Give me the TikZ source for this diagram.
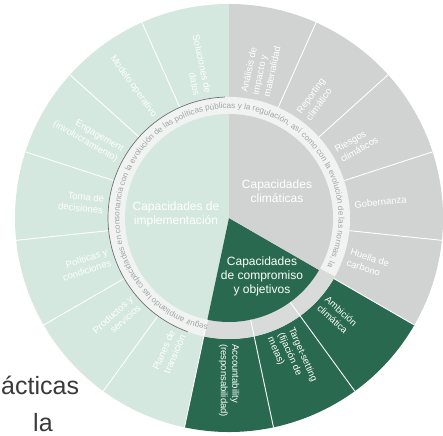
\documentclass[tikz,border=0pt]{standalone}
\usepackage{fontspec}
\setmainfont{Liberation Sans}
\usetikzlibrary{decorations.text}
\definecolor{lgreen}{HTML}{D4E8E0}
\definecolor{lgray}{HTML}{D0D3D2}
\definecolor{dgreen}{HTML}{28694F}
\definecolor{ringw}{HTML}{F1F3F2}
\definecolor{ringg}{HTML}{D8DBD9}
\definecolor{ringtext}{HTML}{A0A6A3}
\definecolor{ringedge}{HTML}{6D7370}
\definecolor{bodytext}{HTML}{3A3A3A}
\begin{document}
\begin{tikzpicture}[x=1pt,y=1pt,
  seglabel/.style={text=white, font=\fontsize{9.5}{11.5}\selectfont, inner sep=0pt},
  rlabel/.style={seglabel, anchor=west, align=left},
  llabel/.style={seglabel, anchor=east, align=right},
  corelabel/.style={text=white, font=\fontsize{12}{14}\selectfont, align=center, inner sep=0pt},
  sep/.style={white, line width=0.9pt},
  bigtext/.style={text=bodytext, font=\fontsize{25}{30}\selectfont, inner sep=0pt, anchor=base west}]
\useasboundingbox (0,0) rectangle (443,435);
\fill[white] (0,0) rectangle (443,435);
\node[bigtext] (t1) at (1,40) {ácticas};
\node[bigtext] (t2) at (33,4) {la};
\begin{scope}[shift={(229,217)}]
  % outer ring sectors
  \fill[lgreen] (0,0) -- (90:214) arc[start angle=90, end angle=258, radius=214] -- cycle;
  \fill[dgreen] (0,0) -- (258:214) arc[start angle=258, end angle=330, radius=214] -- cycle;
  \fill[lgray] (0,0) -- (-30:214) arc[start angle=-30, end angle=90, radius=214] -- cycle;
  \foreach \a in {114,138,...,234,66,42,18,-6,-30}
    \draw[sep] (\a:121) -- (\a:214);
  % white ring
  \fill[ringw] (0,0) circle[radius=121];
  \fill[ringg] (-102:121) arc[start angle=-102, end angle=-29, radius=121]
     -- (-29:104) arc[start angle=-29, end angle=-102, radius=104] -- cycle;
  \draw[ringedge, line width=0.7pt] (92:121) arc[start angle=92, end angle=250, radius=121];
  % core pie
  \fill[lgreen] (0,0) -- (90:104) arc[start angle=90, end angle=258, radius=104] -- cycle;
  \fill[dgreen] (0,0) -- (258:104) arc[start angle=258, end angle=330, radius=104] -- cycle;
  \fill[lgray] (0,0) -- (-30:104) arc[start angle=-30, end angle=90, radius=104] -- cycle;
  \foreach \a in {-54,-78,-102}
    \draw[sep] (\a:104) -- (\a:214);
  % ring text
  \path[decorate, decoration={text along path, text align=left,
     text={|\fontsize{8.1}{9}\selectfont\color{ringtext}|seguir ampliando las capacidades en consonancia con la evolución de las políticas públicas y la regulación, así como con la evolución de las normas, las}}]
     (-101:109.5) arc[start angle=-101, end angle=-386, radius=109.5];
  % core labels
  \node[corelabel] (impl) at (-53,4) {Capacidades de\\implementación};
  \node[corelabel] (clim) at (48,27) {Capacidades\\climáticas};
  \node[corelabel] (comp) at (33,-58) {Capacidades\\de compromiso\\y objetivos};
  % right-side segment labels
  \node[rlabel, rotate=78] (analisis) at (78:126) {Análisis de\\impacto y\\materialidad};
  \node[rlabel, rotate=54] (reporting) at (54:126) {Reporting\\climático};
  \node[rlabel, rotate=30] (riesgos) at (30:126) {Riesgos\\climáticos};
  \node[rlabel, rotate=6] (gobernanza) at (6:126) {Gobernanza};
  \node[rlabel, rotate=-18] (huella) at (-18:126) {Huella de\\carbono};
  \node[rlabel, rotate=-42] (ambicion) at (-42:126) {Ambición\\climática};
  \node[rlabel, rotate=-66] (target) at (-66:126) {Target-setting\\(fijación de\\metas)};
  \node[rlabel, rotate=-90] (account) at (-90:126) {Accountability\\(responsabilidad)};
  % left-side segment labels
  \node[llabel, rotate=-78] (soluciones) at (102:126) {Soluciones de\\datos};
  \node[llabel, rotate=-54] (modelo) at (126:126) {Modelo operativo};
  \node[llabel, rotate=-30] (engagement) at (150:126) {Engagement\\(involucramiento)};
  \node[llabel, rotate=-6] (toma) at (174:126) {Toma de\\decisiones};
  \node[llabel, rotate=18] (politicas) at (198:126) {Políticas y\\condiciones};
  \node[llabel, rotate=42] (productos) at (222:126) {Productos y\\servicios};
  \node[llabel, rotate=66] (planes) at (246:126) {Planes de\\transición};
\end{scope}
\end{tikzpicture}
\end{document}
